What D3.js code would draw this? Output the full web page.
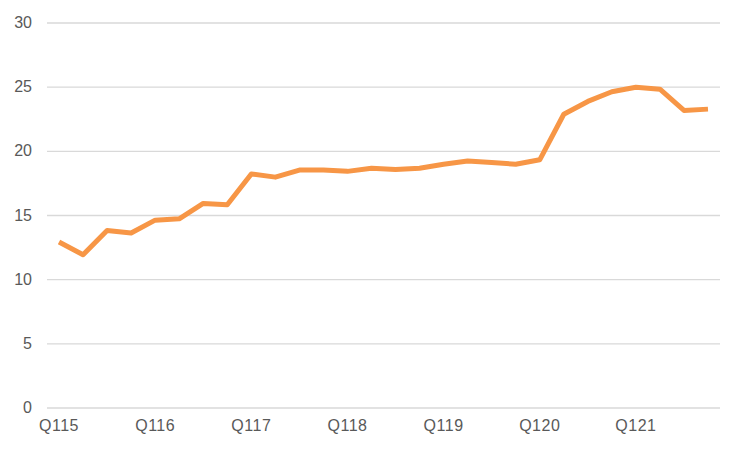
<!DOCTYPE html>
<html>
<head>
<meta charset="utf-8">
<script src="https://cdn.jsdelivr.net/npm/d3@7"></script>
<style>
  body { margin: 0; background: #fff; }
  svg { display: block; }
</style>
</head>
<body>
<svg id="chart" width="750" height="450"></svg>
<script>
  // Quarters Q1 2015 .. Q4 2021
  const quarters = [
    "Q115", "Q215", "Q315", "Q415",
    "Q116", "Q216", "Q316", "Q416",
    "Q117", "Q217", "Q317", "Q417",
    "Q118", "Q218", "Q318", "Q418",
    "Q119", "Q219", "Q319", "Q419",
    "Q120", "Q220", "Q320", "Q420",
    "Q121", "Q221", "Q321", "Q421"
  ];
  const values = [
    12.9, 11.9, 13.8, 13.6,
    14.6, 14.7, 15.9, 15.8,
    18.2, 17.95, 18.5, 18.5,
    18.4, 18.65, 18.55, 18.65,
    18.95, 19.2, 19.1, 18.95,
    19.3, 22.85, 23.85, 24.6,
    24.95, 24.8, 23.15, 23.25
  ];
  const xTickLabels = ["Q115", "Q116", "Q117", "Q118", "Q119", "Q120", "Q121"];
  const yTicks = [0, 5, 10, 15, 20, 25, 30];

  const data = quarters.map((q, i) => ({ q: q, v: values[i] }));

  // Chart dimensions
  const marginLeft = 47;
  const marginRight = 30;
  const y0 = 407.5;
  const y1 = 22.5;
  const width = 750;

  const x = d3.scaleBand()
    .domain(quarters)
    .range([marginLeft, width - marginRight]);

  const y = d3.scaleLinear()
    .domain([0, 30])
    .range([y0, y1]);

  const svg = d3.select("#chart");
  const font = "Arial, 'Liberation Sans', sans-serif";

  // Gridlines + y labels
  const yAxis = svg.append("g")
    .attr("transform", `translate(${marginLeft},0)`)
    .call(d3.axisLeft(y).tickValues(yTicks).tickSize(-(width - marginRight - marginLeft)).tickPadding(15));
  yAxis.select(".domain").remove();
  yAxis.selectAll(".tick line").attr("stroke", "#d9d9d9").attr("stroke-width", 1.3);
  yAxis.selectAll(".tick text")
    .attr("fill", "#595959")
    .style("font-family", font)
    .style("font-size", "16px");

  // x labels
  const xAxis = svg.append("g")
    .attr("transform", `translate(0,${y0})`)
    .call(d3.axisBottom(x).tickValues(xTickLabels).tickSize(0).tickPadding(12));
  xAxis.select(".domain").remove();
  xAxis.selectAll(".tick text")
    .attr("fill", "#595959")
    .style("font-family", font)
    .style("font-size", "16px")
    .style("letter-spacing", "0.5px");

  // Line
  const line = d3.line()
    .x((d) => x(d.q) + x.bandwidth() / 2)
    .y((d) => y(d.v));

  svg.append("path")
    .datum(data)
    .attr("fill", "none")
    .attr("stroke", "#F79646")
    .attr("stroke-width", 5)
    .attr("stroke-linejoin", "round")
    .attr("d", line);
</script>
</body>
</html>
